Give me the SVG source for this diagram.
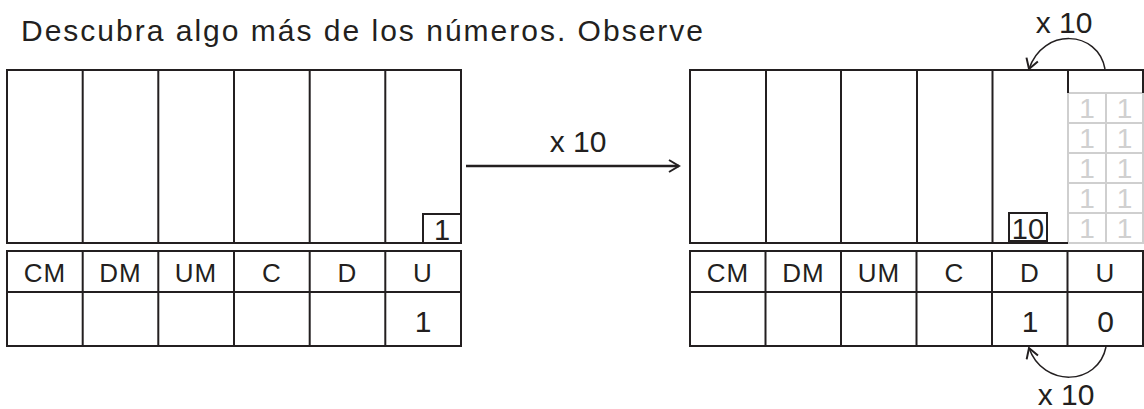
<svg xmlns="http://www.w3.org/2000/svg" width="1144" height="409" viewBox="0 0 1144 409">
<defs>
<style>
.ln{fill:none;stroke:#231f20;stroke-width:2}
.gl{fill:none;stroke:#cfcfcf;stroke-width:2}
.t{font-family:"Liberation Sans",Arial,sans-serif;fill:#231f20;text-anchor:middle}
.lb{font-size:26px;letter-spacing:1px}
.dg{font-size:30px}
.bx{font-size:29px}
.gd{font-size:28px;fill:#d0d0d0}
</style>
<marker id="ah" viewBox="0 0 14 14" refX="12" refY="7" markerWidth="14" markerHeight="14" markerUnits="userSpaceOnUse" orient="auto">
<path d="M2,1 L12,7 L2,13" fill="none" stroke="#231f20" stroke-width="2"/>
</marker>
</defs>
<rect width="1144" height="409" fill="#fff"/>
<text x="21" y="41" font-family="Liberation Sans, Arial, sans-serif" font-size="30" fill="#231f20" textLength="682" lengthAdjust="spacing">Descubra algo más de los números. Observe</text>

<g id="left-table">
<rect class="ln" x="7" y="70" width="454" height="173"/>
<path class="ln" d="M82.7,70V243M158.3,70V243M234,70V243M309.7,70V243M385.3,70V243"/>
<rect class="ln" x="7" y="251" width="454" height="95"/>
<path class="ln" d="M7,292H461M82.7,251V346M158.3,251V346M234,251V346M309.7,251V346M385.3,251V346"/>
<rect class="ln" x="423" y="214" width="38" height="29" stroke-width="1.5"/>
<text class="t bx" x="442" y="240">1</text>
<text class="t lb" x="45" y="282">CM</text>
<text class="t lb" x="120.5" y="282">DM</text>
<text class="t lb" x="196" y="282">UM</text>
<text class="t lb" x="272" y="282">C</text>
<text class="t lb" x="347.5" y="282">D</text>
<text class="t lb" x="423" y="282">U</text>
<text class="t dg" x="423" y="332">1</text>
</g>

<g id="right-table">
<g id="gray-grid">
<rect class="gl" x="1068" y="93" width="75" height="150"/>
<path class="gl" d="M1106,93V243M1068,123H1143M1068,153H1143M1068,183H1143M1068,213H1143"/>
<text class="t gd" x="1087" y="118">1</text><text class="t gd" x="1124.5" y="118">1</text>
<text class="t gd" x="1087" y="148">1</text><text class="t gd" x="1124.5" y="148">1</text>
<text class="t gd" x="1087" y="178">1</text><text class="t gd" x="1124.5" y="178">1</text>
<text class="t gd" x="1087" y="208">1</text><text class="t gd" x="1124.5" y="208">1</text>
<text class="t gd" x="1087" y="238">1</text><text class="t gd" x="1124.5" y="238">1</text>
</g>
<path class="ln" d="M1068,93V70M1143,93V70H690V243H1068"/>
<path class="ln" d="M766,70V243M841,70V243M917,70V243M992.5,70V243"/>
<rect class="ln" x="690" y="251" width="453" height="95"/>
<path class="ln" d="M690,292H1143M765.5,251V346M841,251V346M916.5,251V346M992,251V346M1067.5,251V346"/>
<rect class="ln" x="1009" y="213" width="38" height="28" stroke-width="1.5"/>
<text class="t bx" x="1028" y="239">10</text>
<text class="t lb" x="728" y="282">CM</text>
<text class="t lb" x="803.5" y="282">DM</text>
<text class="t lb" x="879" y="282">UM</text>
<text class="t lb" x="954.5" y="282">C</text>
<text class="t lb" x="1030" y="282">D</text>
<text class="t lb" x="1105.5" y="282">U</text>
<text class="t dg" x="1030" y="332">1</text>
<text class="t dg" x="1105.5" y="332">0</text>
</g>

<g id="connectors">
<path d="M466,166H679" fill="none" stroke="#231f20" stroke-width="2.5" marker-end="url(#ah)"/>
<path d="M1105,69C1098,30 1043,27 1029,69" fill="none" stroke="#231f20" stroke-width="1.5" marker-end="url(#ah)"/>
<path d="M1106,347C1098,386 1043,388 1029,348" fill="none" stroke="#231f20" stroke-width="1.5" marker-end="url(#ah)"/>
</g>
<g id="labels">
<text class="t dg" x="578" y="152">x 10</text>
<text class="t dg" x="1064" y="33">x 10</text>
<text class="t dg" x="1066" y="405">x 10</text>
</g>
</svg>
